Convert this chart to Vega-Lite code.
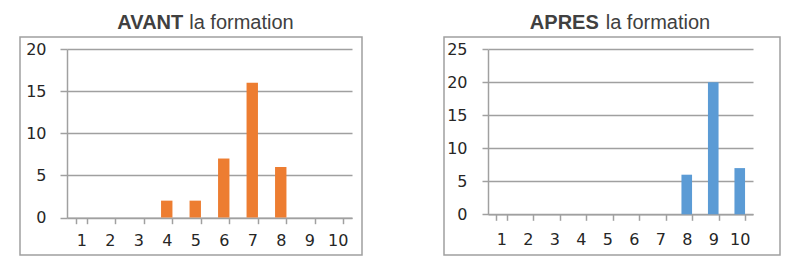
{
  "$schema": "https://vega.github.io/schema/vega-lite/v6.json",
  "padding": {"left": 19, "top": 12, "right": 0, "bottom": 0},
  "background": "white",
  "spacing": 80,
  "config": {
    "view": {"stroke": "#a0a0a0", "strokeWidth": 1.5},
    "axis": {
      "title": null,
      "labelFont": "DejaVu Sans",
      "labelFontSize": 16,
      "labelColor": "#262626",
      "domainColor": "#a0a0a0",
      "domainWidth": 1.5,
      "tickColor": "#a0a0a0",
      "tickWidth": 1.5,
      "gridColor": "#a0a0a0",
      "gridWidth": 1.5
    }
  },
  "hconcat": [
    {
      "width": 342,
      "height": 218,
      "layer": [
        {
          "data": {"values": [
            {"note": 1, "n": 0}, {"note": 2, "n": 0}, {"note": 3, "n": 0}, {"note": 4, "n": 2}, {"note": 5, "n": 2},
            {"note": 6, "n": 7}, {"note": 7, "n": 16}, {"note": 8, "n": 6}, {"note": 9, "n": 0}, {"note": 10, "n": 0}
          ]},
          "mark": {"type": "bar", "color": "#ED7D31"},
          "encoding": {
            "x": {"field": "note", "type": "ordinal",
              "scale": {"domain": [1,2,3,4,5,6,7,8,9,10], "range": [47, 332], "paddingInner": 0.6, "paddingOuter": 0.3},
              "axis": {"orient": "bottom", "offset": -37.3, "tickBand": "extent", "tickSize": 6, "labelPadding": 9, "labelAngle": 0, "grid": false}},
            "y": {"field": "n", "type": "quantitative",
              "scale": {"domain": [0, 20], "range": [180.5, 12], "nice": false},
              "axis": {"orient": "left", "offset": -47, "values": [0,5,10,15,20], "tickSize": 7, "labelPadding": 14, "grid": true}}
          }
        },
        {
          "data": {"values": [{}]},
          "mark": {"type": "text", "text": "AVANT", "font": "Liberation Sans", "fontSize": 20, "fontWeight": "bold", "color": "#404040", "align": "right", "baseline": "alphabetic", "dx": -12, "dy": -20},
          "encoding": {"x": {"datum": 5, "type": "ordinal"}, "y": {"datum": 20, "type": "quantitative"}}
        },
        {
          "data": {"values": [{}]},
          "mark": {"type": "text", "text": "la formation", "font": "Liberation Sans", "fontSize": 20, "color": "#404040", "align": "left", "baseline": "alphabetic", "dx": -6, "dy": -20},
          "encoding": {"x": {"datum": 5, "type": "ordinal"}, "y": {"datum": 20, "type": "quantitative"}}
        }
      ]
    },
    {
      "width": 336,
      "height": 218,
      "layer": [
        {
          "data": {"values": [
            {"note": 1, "n": 0}, {"note": 2, "n": 0}, {"note": 3, "n": 0}, {"note": 4, "n": 0}, {"note": 5, "n": 0},
            {"note": 6, "n": 0}, {"note": 7, "n": 0}, {"note": 8, "n": 6}, {"note": 9, "n": 20}, {"note": 10, "n": 7}
          ]},
          "mark": {"type": "bar", "color": "#5B9BD5"},
          "encoding": {
            "x": {"field": "note", "type": "ordinal",
              "scale": {"domain": [1,2,3,4,5,6,7,8,9,10], "range": [44, 309], "paddingInner": 0.6, "paddingOuter": 0.3},
              "axis": {"orient": "bottom", "offset": -40.7, "tickBand": "extent", "tickSize": 6, "labelPadding": 11, "labelAngle": 0, "grid": false}},
            "y": {"field": "n", "type": "quantitative",
              "scale": {"domain": [0, 25], "range": [177.3, 12.3], "nice": false},
              "axis": {"orient": "left", "offset": -44, "values": [0,5,10,15,20,25], "tickSize": 6, "labelPadding": 15, "grid": true}}
          }
        },
        {
          "data": {"values": [{}]},
          "mark": {"type": "text", "text": "APRES", "font": "Liberation Sans", "fontSize": 20, "fontWeight": "bold", "color": "#404040", "align": "right", "baseline": "alphabetic", "dx": -8.5, "dy": -20},
          "encoding": {"x": {"datum": 5, "type": "ordinal"}, "y": {"datum": 25, "type": "quantitative"}}
        },
        {
          "data": {"values": [{}]},
          "mark": {"type": "text", "text": "la formation", "font": "Liberation Sans", "fontSize": 20, "color": "#404040", "align": "left", "baseline": "alphabetic", "dx": -1.5, "dy": -20},
          "encoding": {"x": {"datum": 5, "type": "ordinal"}, "y": {"datum": 25, "type": "quantitative"}}
        }
      ]
    }
  ]
}
